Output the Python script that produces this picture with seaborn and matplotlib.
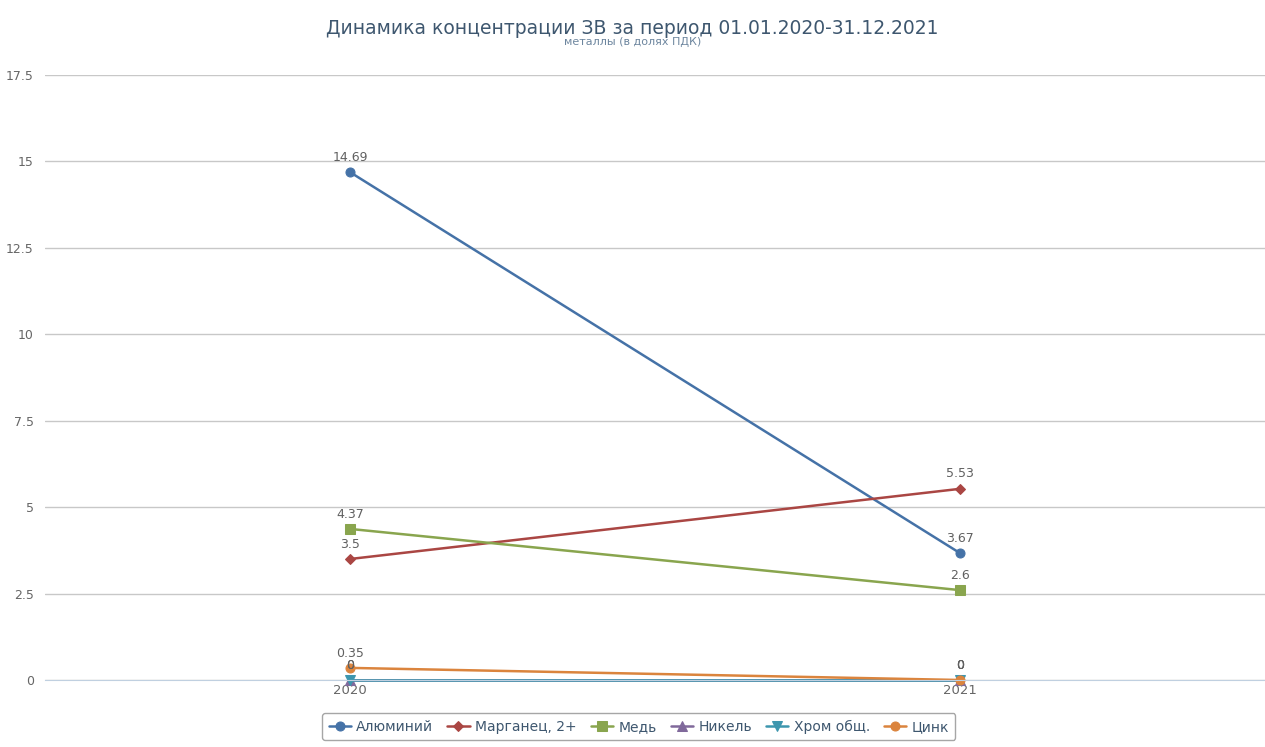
import pandas as pd
import seaborn as sns
import matplotlib.pyplot as plt

# Chart data
years = ['2020', '2021']
series_names = ['Алюминий', 'Марганец, 2+', 'Медь', 'Никель', 'Хром общ.', 'Цинк']
aluminium = [14.69, 3.67]
manganese = [3.5, 5.53]
copper = [4.37, 2.6]
nickel = [0, 0]
chromium = [0, 0]
zinc = [0.35, 0]

colors = ['#4572A7', '#AA4643', '#89A54E', '#80699B', '#3D96AE', '#DB843D']
markers = ['o', 'D', 's', '^', 'v', 'o']
msizes = [6.5, 5, 6.5, 6.5, 6.5, 6.5]

values = [aluminium, manganese, copper, nickel, chromium, zinc]
rows = []
for name, vals in zip(series_names, values):
    for i, v in enumerate(vals):
        rows.append({'series': name, 'year': years[i], 'pos': i, 'value': v})
df = pd.DataFrame(rows)

sns.set_style('white')
plt.rcParams['font.family'] = ['DejaVu Sans']

fig = plt.figure(figsize=(12.65, 7.47), dpi=100)
ax = fig.add_axes([45 / 1265, 67 / 747, 1220 / 1265, 605 / 747])

for name, col, mk, ms in zip(series_names, colors, markers, msizes):
    d = df[df['series'] == name]
    sns.lineplot(data=d, x='pos', y='value', color=col, marker=mk, markersize=ms,
                 markeredgecolor=col, linewidth=1.8, label=name, ax=ax,
                 legend=False, clip_on=False)
    for _, r in d.iterrows():
        ax.annotate(f"{r['value']:g}", (r['pos'], r['value']), xytext=(0, 6),
                    textcoords='offset points', ha='center', va='bottom',
                    fontsize=9, color='#606060')

ax.set_xlim(-0.5, 1.5)
ax.set_ylim(0, 17.5)
ax.set_yticks([0, 2.5, 5, 7.5, 10, 12.5, 15, 17.5])
ax.set_yticklabels(['0', '2.5', '5', '7.5', '10', '12.5', '15', '17.5'])
ax.set_xticks([0, 1])
ax.set_xticklabels(years)
ax.grid(axis='y', color='#C8C8C8', linewidth=1)
ax.set_axisbelow(True)
for s in ['top', 'right', 'left']:
    ax.spines[s].set_visible(False)
ax.spines['bottom'].set_color('#C0D0E0')
ax.tick_params(axis='y', length=0, pad=8, labelsize=9, labelcolor='#666666')
ax.tick_params(axis='x', length=0, pad=3, labelsize=9.5, labelcolor='#666666')
ax.set_xlabel('')
ax.set_ylabel('')

fig.text(0.5, 1 - 34 / 747, 'Динамика концентрации ЗВ за период 01.01.2020-31.12.2021',
         ha='center', va='baseline', fontsize=13.5, color='#3E576F')
fig.text(0.5, 1 - 45 / 747, 'металлы (в долях ПДК)', ha='center', va='baseline',
         fontsize=8, color='#6D869F')

handles, labels = ax.get_legend_handles_labels()
leg = fig.legend(handles, labels, loc='lower center', bbox_to_anchor=(0.505, 0.0),
                 ncol=6, frameon=True, fontsize=10, handlelength=1.6,
                 handletextpad=0.4, columnspacing=1.0, borderpad=0.45,
                 fancybox=True, edgecolor='#909090')
for t in leg.get_texts():
    t.set_color('#3E576F')

fig.savefig('out.png', dpi=100)
